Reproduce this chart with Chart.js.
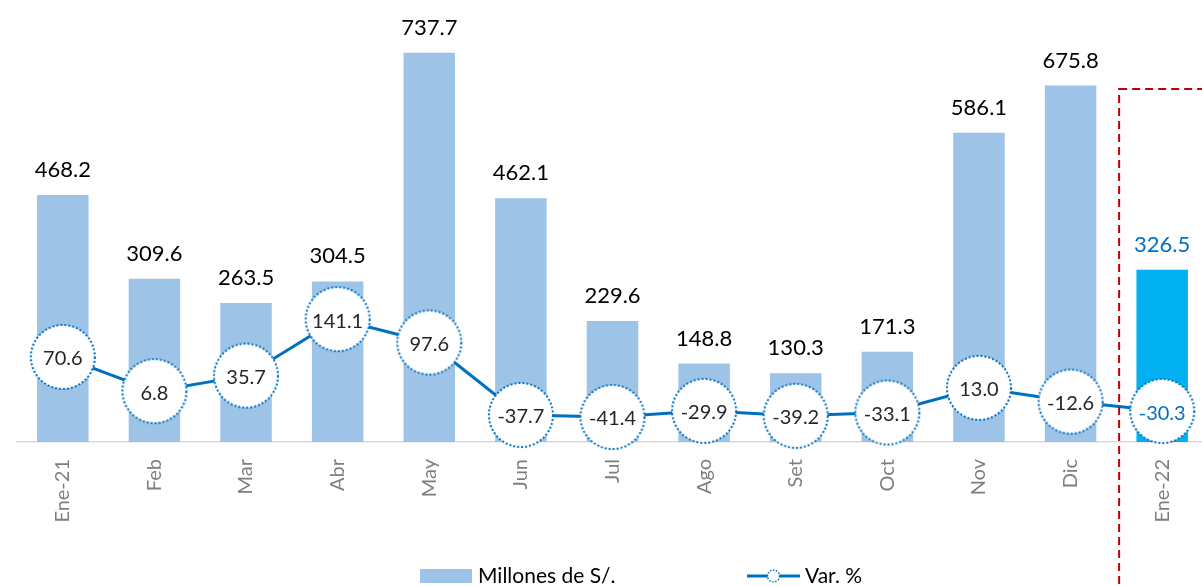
<!DOCTYPE html>
<html>
<head>
<meta charset="utf-8">
<script src="https://cdn.jsdelivr.net/npm/chart.js@4/dist/chart.umd.min.js"></script>
<style>
  html, body { margin: 0; padding: 0; background: #ffffff; overflow: hidden; width: 1202px; height: 586px; }
  #wrap { position: absolute; left: 0; top: 0; width: 1212px; height: 586px; }
</style>
</head>
<body>
<div id="wrap"><canvas id="c" width="1212" height="586"></canvas></div>
<script>
const categories = ['Ene-21','Feb','Mar','Abr','May','Jun','Jul','Ago','Set','Oct','Nov','Dic','Ene-22'];
const millones = [468.2, 309.6, 263.5, 304.5, 737.7, 462.1, 229.6, 148.8, 130.3, 171.3, 586.1, 675.8, 326.5];
const variacion = [70.6, 6.8, 35.7, 141.1, 97.6, -37.7, -41.4, -29.9, -39.2, -33.1, 13.0, -12.6, -30.3];
const seriesNames = ['Millones de S/.', 'Var. %'];

const BAR_COLOR = '#9DC3E6';
const BAR_HIGHLIGHT = '#00B0F0';
const LINE_COLOR = '#0070C0';
const FONT = 'Lato, "Open Sans", sans-serif';

function makeCircle(r, lw) {
  const s = Math.ceil(r * 2 + lw * 2 + 2);
  const cv = document.createElement('canvas');
  cv.width = s; cv.height = s;
  const g = cv.getContext('2d');
  g.beginPath();
  g.arc(s / 2, s / 2, r, 0, Math.PI * 2);
  g.fillStyle = '#ffffff';
  g.fill();
  g.setLineDash([2, 2]);
  g.lineWidth = lw;
  g.strokeStyle = LINE_COLOR;
  g.stroke();
  return cv;
}
const bigCircle = makeCircle(32, 2);

const lastIdx = categories.length - 1;

const labelPlugin = {
  id: 'labels',
  afterDatasetsDraw(chart) {
    const ctx = chart.ctx;
    ctx.save();
    const barMeta = chart.getDatasetMeta(1);
    ctx.textAlign = 'center';
    ctx.textBaseline = 'alphabetic';
    ctx.font = '22px ' + FONT;
    barMeta.data.forEach((el, i) => {
      ctx.fillStyle = i === lastIdx ? '#0070C0' : '#000000';
      ctx.fillText(millones[i].toFixed(1), el.x, el.y - 18);
    });
    const lineMeta = chart.getDatasetMeta(0);
    ctx.font = '20px ' + FONT;
    ctx.textBaseline = 'middle';
    lineMeta.data.forEach((el, i) => {
      ctx.fillStyle = i === lastIdx ? '#0070C0' : '#262626';
      ctx.fillText(variacion[i].toFixed(1), el.x, el.y + 2);
    });
    ctx.restore();
  },
  afterDraw(chart) {
    const ctx = chart.ctx;
    const xs = chart.scales.x;
    ctx.save();
    const step = xs.getPixelForValue(1) - xs.getPixelForValue(0);
    const left = xs.getPixelForValue(lastIdx) - step * 0.47;
    ctx.strokeStyle = '#C00000';
    ctx.lineWidth = 2;
    ctx.setLineDash([8, 5]);
    ctx.strokeRect(left, 89, 200, 600);
    ctx.setLineDash([]);
    const ly = 576;
    ctx.fillStyle = BAR_COLOR;
    ctx.fillRect(420, 569, 52, 14);
    ctx.fillStyle = '#000000';
    ctx.font = '21px ' + FONT;
    ctx.textAlign = 'left';
    ctx.textBaseline = 'middle';
    ctx.fillText(seriesNames[0], 478, ly);
    ctx.strokeStyle = LINE_COLOR;
    ctx.lineWidth = 3;
    ctx.beginPath();
    ctx.moveTo(747, ly); ctx.lineTo(800, ly);
    ctx.stroke();
    ctx.beginPath();
    ctx.arc(773.5, ly, 6, 0, Math.PI * 2);
    ctx.fillStyle = '#ffffff';
    ctx.fill();
    ctx.setLineDash([1.5, 1.5]);
    ctx.lineWidth = 1.5;
    ctx.stroke();
    ctx.setLineDash([]);
    ctx.fillStyle = '#000000';
    ctx.fillText(seriesNames[1], 805, ly);
    ctx.restore();
  }
};

new Chart(document.getElementById('c'), {
  data: {
    labels: categories,
    datasets: [
      {
        type: 'line',
        label: seriesNames[1],
        data: variacion,
        yAxisID: 'y2',
        borderColor: LINE_COLOR,
        borderWidth: 3,
        pointStyle: bigCircle,
        pointRadius: 32,
        pointHoverRadius: 32,
        tension: 0,
        order: 0,
        clip: false
      },
      {
        type: 'bar',
        label: seriesNames[0],
        data: millones,
        yAxisID: 'y',
        backgroundColor: millones.map((v, i) => i === lastIdx ? BAR_HIGHLIGHT : BAR_COLOR),
        borderWidth: 0,
        categoryPercentage: 1,
        barPercentage: 0.562,
        order: 1
      }
    ]
  },
  options: {
    responsive: false,
    animation: false,
    events: [],
    layout: { autoPadding: false, padding: { left: 17, right: 4, top: 20, bottom: 0 } },
    plugins: { legend: { display: false }, tooltip: { enabled: false } },
    scales: {
      x: {
        offset: true,
        grid: { display: false, drawTicks: false },
        border: { display: true, color: '#D9D9D9', width: 1.5 },
        ticks: {
          minRotation: 90, maxRotation: 90,
          padding: 17,
          color: '#7F7F7F',
          font: { family: FONT, size: 20, weight: 400 }
        },
        afterFit(scale) {
          scale.height = 144;
          scale.paddingLeft = 0;
          scale.paddingRight = 0;
        }
      },
      y: {
        display: false,
        min: 0, max: 800
      },
      y2: {
        display: false,
        position: 'right',
        min: -88, max: 699
      }
    }
  },
  plugins: [labelPlugin]
});
</script>
</body>
</html>
